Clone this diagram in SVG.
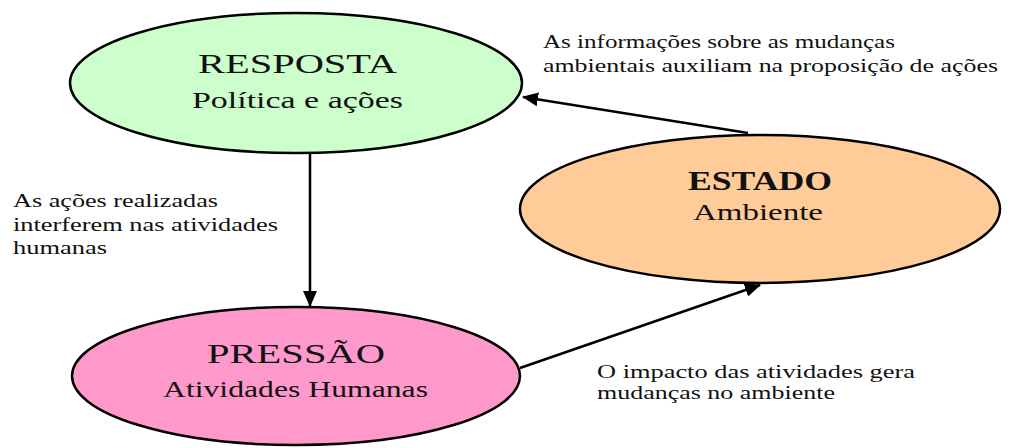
<svg xmlns="http://www.w3.org/2000/svg" width="1013" height="448" viewBox="0 0 1013 448">
<style>
.node{stroke:#000;stroke-width:2.5}
text{font-family:'Liberation Serif','DejaVu Serif',serif;fill:#111}
.title{font-size:28px}
.sub{font-size:23px}
.lbl{font-size:19px}
.edge{stroke:#000;stroke-width:2.5;fill:none}
</style>
<defs>
<marker id="ah" viewBox="0 0 16 14" refX="15" refY="7" markerWidth="16" markerHeight="14" markerUnits="userSpaceOnUse" orient="auto">
<path d="M0,0 L16,7 L0,14 z" fill="#000"/>
</marker>
</defs>
<rect width="1013" height="448" fill="#fff"/>
<g id="connectors">
<line class="edge" x1="310" y1="152" x2="310" y2="306" marker-end="url(#ah)"/>
<line class="edge" x1="748" y1="133" x2="523" y2="97" marker-end="url(#ah)"/>
<line class="edge" x1="520" y1="368" x2="760" y2="285" marker-end="url(#ah)"/>
</g>
<g id="resposta">
<ellipse class="node" cx="296" cy="83" rx="226" ry="70" fill="#ccffcc"/>
<text class="title" x="198" y="73" textLength="199" lengthAdjust="spacingAndGlyphs">RESPOSTA</text>
<text class="sub" x="192" y="108" textLength="211" lengthAdjust="spacingAndGlyphs">Política e ações</text>
</g>
<g id="estado">
<ellipse class="node" cx="760" cy="209" rx="240" ry="74" fill="#ffcc99"/>
<text class="title" x="688" y="190" font-weight="bold" textLength="144" lengthAdjust="spacingAndGlyphs">ESTADO</text>
<text class="sub" x="693" y="220" textLength="130" lengthAdjust="spacingAndGlyphs">Ambiente</text>
</g>
<g id="pressao">
<ellipse class="node" cx="296" cy="376" rx="224" ry="69" fill="#ff99cc"/>
<text class="title" x="207" y="363" textLength="178" lengthAdjust="spacingAndGlyphs">PRESSÃO</text>
<text class="sub" x="163" y="397" textLength="265" lengthAdjust="spacingAndGlyphs">Atividades Humanas</text>
</g>
<g id="labels">
<text class="lbl" x="543" y="48" textLength="352" lengthAdjust="spacingAndGlyphs">As informações sobre as mudanças</text>
<text class="lbl" x="543" y="72" textLength="455" lengthAdjust="spacingAndGlyphs">ambientais auxiliam na proposição de ações</text>
<text class="lbl" x="13" y="207" textLength="205" lengthAdjust="spacingAndGlyphs">As ações realizadas</text>
<text class="lbl" x="13" y="231" textLength="265" lengthAdjust="spacingAndGlyphs">interferem nas atividades</text>
<text class="lbl" x="13" y="254" textLength="94" lengthAdjust="spacingAndGlyphs">humanas</text>
<text class="lbl" x="597" y="378" textLength="318" lengthAdjust="spacingAndGlyphs">O impacto das atividades gera</text>
<text class="lbl" x="597" y="399" textLength="238" lengthAdjust="spacingAndGlyphs">mudanças no ambiente</text>
</g>
</svg>
